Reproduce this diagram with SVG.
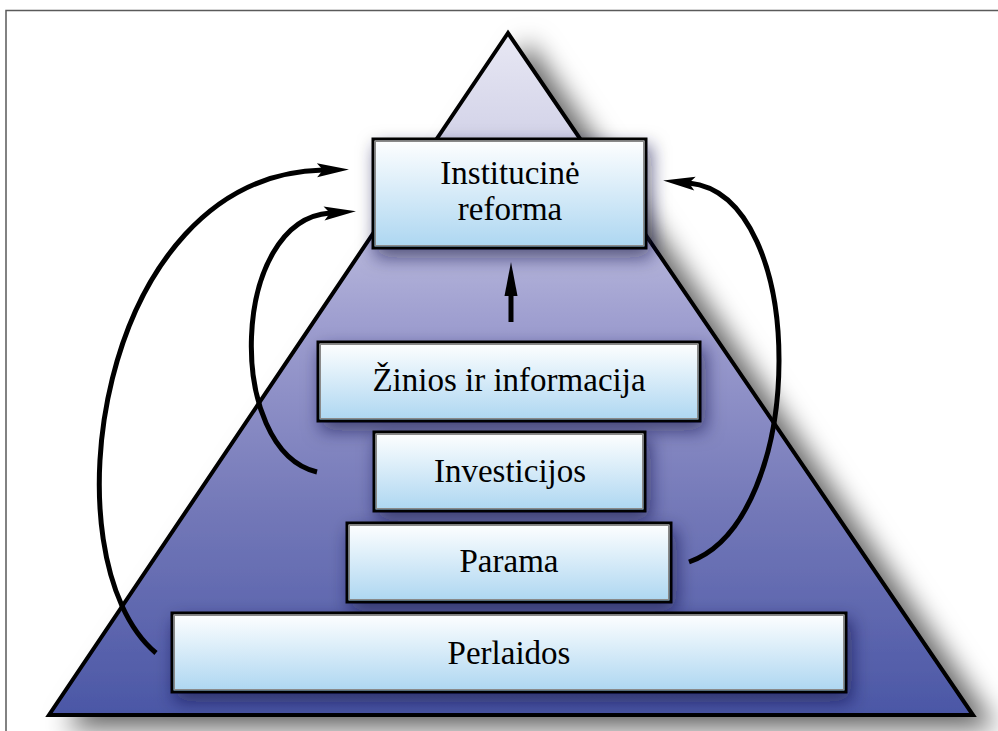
<svg xmlns="http://www.w3.org/2000/svg" width="998" height="731" viewBox="0 0 998 731">
<defs>
<linearGradient id="triG" x1="0" y1="33" x2="0" y2="715" gradientUnits="userSpaceOnUse">
<stop offset="0" stop-color="#e8e8f4"/>
<stop offset="0.18" stop-color="#cfcfe6"/>
<stop offset="0.42" stop-color="#9f9fd0"/>
<stop offset="0.7" stop-color="#7378b8"/>
<stop offset="1" stop-color="#4b57a6"/>
</linearGradient>
<linearGradient id="boxG" x1="0" y1="0" x2="0" y2="1">
<stop offset="0" stop-color="#ffffff"/>
<stop offset="1" stop-color="#acd6f1"/>
</linearGradient>
<filter id="triShadow" x="-20%" y="-20%" width="150%" height="150%">
<feDropShadow dx="20" dy="12" stdDeviation="13" flood-color="#000" flood-opacity="0.6"/>
</filter>
<filter id="boxShadow" x="-20%" y="-30%" width="140%" height="170%">
<feDropShadow dx="4" dy="8" stdDeviation="9" flood-color="#101840" flood-opacity="0.6"/>
</filter>
<marker id="head" markerUnits="userSpaceOnUse" markerWidth="40" markerHeight="20" refX="6" refY="10" orient="auto" overflow="visible">
<path d="M0,3 L6,10 L0,17 L32,10 Z" fill="#000"/>
</marker>
<style>
.box{fill:url(#boxG);stroke:#000;stroke-width:3;filter:url(#boxShadow)}
.inner{fill:none;stroke:#8a8a8a;stroke-width:1}
.lbl{font-family:"Liberation Serif","DejaVu Serif",serif;font-size:33px;fill:#000;text-anchor:middle}
.curve{fill:none;stroke:#000;stroke-width:5;marker-end:url(#head)}
</style>
</defs>
<rect x="0" y="0" width="998" height="731" fill="#fff"/>
<path d="M6,731 L6,10.5 L998,10.5" fill="none" stroke="#5a5a5a" stroke-width="1.5"/>

<g id="pyramid">
<polygon points="508,33 49,715 973,715" fill="url(#triG)" stroke="#000" stroke-width="4" stroke-linejoin="miter" filter="url(#triShadow)"/>
</g>

<g id="connectors">
<path class="curve" d="M156,653 C45,560 95,175 323,170"/>
<path class="curve" d="M317,472 C225,450 230,220 330,213"/>
<path class="curve" d="M689,562 C808,520 810,195 689,183"/>
<line x1="511" y1="322" x2="511" y2="290" stroke="#000" stroke-width="5"/>
<polygon points="511,262 504.5,296 517.5,296" fill="#000"/>
</g>

<g id="node-institucine">
<rect class="box" x="373" y="139" width="273" height="109"/>
<rect class="inner" x="375.5" y="141.5" width="268" height="104"/>
<text class="lbl" x="510" y="184">Institucinė</text>
<text class="lbl" x="510" y="220">reforma</text>
</g>

<g id="node-zinios">
<rect class="box" x="318" y="342" width="382" height="79"/>
<rect class="inner" x="320.5" y="344.5" width="377" height="74"/>
<text class="lbl" x="509" y="391">Žinios ir informacija</text>
</g>

<g id="node-investicijos">
<rect class="box" x="374" y="432" width="271" height="79"/>
<rect class="inner" x="376.5" y="434.5" width="266" height="74"/>
<text class="lbl" x="510" y="482">Investicijos</text>
</g>

<g id="node-parama">
<rect class="box" x="347" y="523" width="324" height="79"/>
<rect class="inner" x="349.5" y="525.5" width="319" height="74"/>
<text class="lbl" x="509" y="572">Parama</text>
</g>

<g id="node-perlaidos">
<rect class="box" x="172" y="613" width="674" height="79"/>
<rect class="inner" x="174.5" y="615.5" width="669" height="74"/>
<text class="lbl" x="509" y="664">Perlaidos</text>
</g>
</svg>
